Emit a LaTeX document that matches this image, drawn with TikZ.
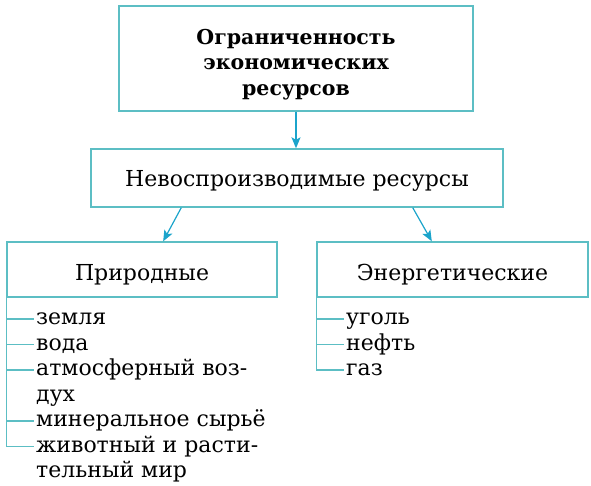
\documentclass[tikz,border=0pt]{standalone}
\usepackage{fontspec}
\setmainfont{DejaVu Serif}
\usetikzlibrary{arrows.meta,calc}
\definecolor{boxcol}{RGB}{92,190,196}
\definecolor{arrcol}{RGB}{27,164,203}

\begin{document}
\begin{tikzpicture}[x=1pt,y=-1pt,
  box/.style={draw=boxcol,line width=1.4pt,inner sep=0pt,align=center,text depth=5pt,font=\fontsize{22}{25.5}\selectfont},
  arr/.style={draw=arrcol,line width=1.2pt,-{Stealth[length=11pt,width=9pt,inset=2.5pt]}},
  tick/.style={draw=boxcol,line width=1.3pt},
  item/.style={anchor=base west,inner sep=0pt,align=left,font=\fontsize{22}{25.5}\selectfont}]

  \useasboundingbox (0,0) rectangle (591,485);

  \node[box,minimum width=354pt,minimum height=105pt,text height=78pt,font=\fontsize{20.5}{25.5}\selectfont\bfseries] (top) at (296,58.5) {Ограниченность\\экономических\\ресурсов};
  \node[box,minimum width=412pt,minimum height=58pt,text height=22pt] (mid) at (297,178) {Невоспроизводимые ресурсы};
  \node[box,minimum width=270pt,minimum height=55pt,text height=26pt] (nat) at (142,269.5) {Природные};
  \node[box,minimum width=271pt,minimum height=55pt,text height=26pt] (en) at (452.5,269.5) {Энергетические};

  % natural resources
  \node[item] (n1) at (36,324.5) {земля};
  \node[item] (n2) at (36,350) {вода};
  \node[item] (n3) at (36,401) {атмосферный воз-\\дух};
  \node[item] (n4) at (36,426.5) {минеральное сырьё};
  \node[item] (n5) at (36,477.5) {животный и расти-\\тельный мир};

  % energy resources
  \node[item] (e1) at (346,324.5) {уголь};
  \node[item] (e2) at (346,350) {нефть};
  \node[item] (e3) at (346,375.5) {газ};

  \path[arr] (top) -- (top |- mid.north);
  \path[arr] ($(mid.south west)!0.22!(mid.south east)$) -- ($(nat.north west)!0.578!(nat.north east)$);
  \path[arr] ($(mid.south west)!0.78!(mid.south east)$) -- ($(en.north west)!0.424!(en.north east)$);

  \path[tick] (nat.south west) |- ([xshift=-2pt,yshift=31pt]n5.base west);
  \path[tick] (nat.south west |- n1.base) ++(0,-5.5) -- ([xshift=-2pt,yshift=5.5pt]n1.base west);
  \path[tick] (nat.south west |- n2.base) ++(0,-5.5) -- ([xshift=-2pt,yshift=5.5pt]n2.base west);
  \path[tick] (nat.south west |- n3.base) ++(0,-31) -- ([xshift=-2pt,yshift=31pt]n3.base west);
  \path[tick] (nat.south west |- n4.base) ++(0,-5.5) -- ([xshift=-2pt,yshift=5.5pt]n4.base west);

  \path[tick] (en.south west) |- ([xshift=-2pt,yshift=5.5pt]e3.base west);
  \path[tick] (en.south west |- e1.base) ++(0,-5.5) -- ([xshift=-2pt,yshift=5.5pt]e1.base west);
  \path[tick] (en.south west |- e2.base) ++(0,-5.5) -- ([xshift=-2pt,yshift=5.5pt]e2.base west);
\end{tikzpicture}
\end{document}
